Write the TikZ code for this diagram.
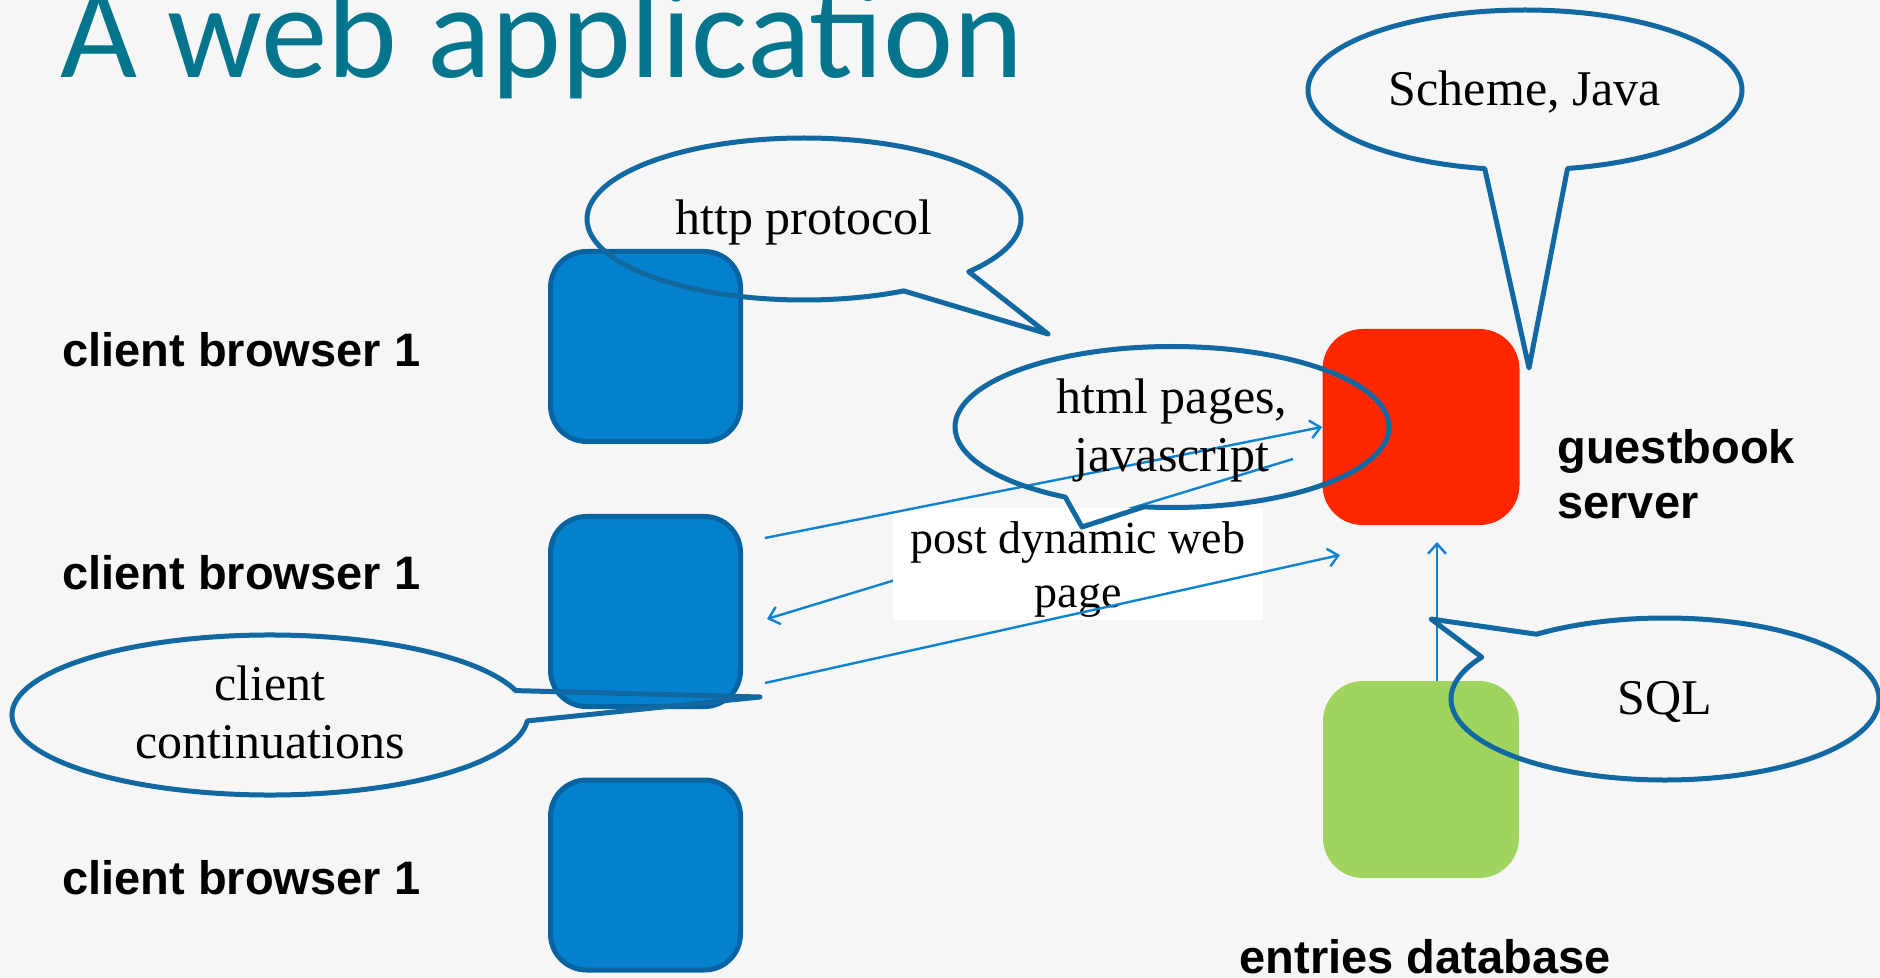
\documentclass[tikz,border=0pt]{standalone}
\usepackage{fontspec}
\setmainfont{Liberation Serif}
\newfontfamily\titlefont{Carlito}
\newfontfamily\labelfont{Liberation Sans}
\usetikzlibrary{shapes.callouts,arrows.meta,calc}
\definecolor{bgcol}{RGB}{246,246,246}
\definecolor{titleteal}{RGB}{4,117,140}
\definecolor{boxblue}{RGB}{6,129,206}
\definecolor{boxedge}{RGB}{8,100,160}
\definecolor{srvred}{RGB}{255,38,0}
\definecolor{dbgreen}{RGB}{161,212,94}
\definecolor{callblue}{RGB}{18,104,160}
\definecolor{arrowblue}{RGB}{15,130,210}
\begin{document}
\begin{tikzpicture}[x=0.5pt,y=-0.5pt,
  box/.style={rectangle, rounded corners=18pt, inner sep=0pt},
  clientbox/.style={box, fill=boxblue, draw=boxedge, line width=2.5pt, minimum width=95pt, minimum height=95pt},
  lab/.style={font=\labelfont\bfseries\fontsize{23.5}{27.5}\selectfont, inner sep=0pt},
  bubble/.style={ellipse callout, draw=callblue, line width=2.5pt, line join=round, inner sep=0pt, align=center, callout pointer arc=22, font=\fontsize{25}{29}\selectfont},
  oneline/.style={text height=18pt, text depth=2pt},
  twoline/.style={text height=46pt, text depth=1pt},
  link/.style={draw=arrowblue, line width=1.2pt, -{Straight Barb[length=5pt,width=9pt]}}
]
\useasboundingbox (0,0) rectangle (1880,978);
\fill[bgcol] (0,0) rectangle (1880,978);

% title
\node[anchor=base west, inner sep=0pt, text=titleteal, font=\titlefont\fontsize{66.5}{70}\selectfont] (title) at (60,78) {A web application};

% boxes
\node[clientbox] (b1) at (645.5,346.5) {};
\node[clientbox] (b2) at (645.5,611.5) {};
\node[clientbox] (b3) at (645.5,875) {};
\node[box, fill=srvred, minimum width=98.5pt, minimum height=98pt, rounded corners=20pt] (srv) at (1421,427) {};
\node[box, fill=dbgreen, minimum width=98pt, minimum height=98.5pt, rounded corners=20pt] (db) at (1421,779.5) {};

% labels
\node[lab, anchor=west] (c1) at (62,350) {client browser 1};
\node[lab, anchor=west] (c2) at (62,573) {client browser 1};
\node[lab, anchor=west] (c3) at (62,878) {client browser 1};
\node[lab, anchor=west, align=left] (gs) at (1557,474) {guestbook\\server};
\node[lab] (edb) at (1425,957) {entries database};

% arrow coordinates
\coordinate (p1) at (765,538);
\coordinate (p2s) at (1293,459);
\coordinate (p2e) at (767,619);
\coordinate (p3s) at (765,683);
\coordinate (p3e) at (1340,555);
\coordinate (p4e) at (1437,542);

\draw[link] (p2s) -- (p2e);
\node[fill=white, minimum width=185pt, minimum height=56pt, inner sep=0pt, align=center, text height=45pt, text depth=1.5pt, font=\fontsize{23}{27}\selectfont] (post) at (1078,564) {post dynamic web\\page};
\draw[link] (p1) -- (srv.west);
\draw[link] (p3s) -- (p3e);
\draw[link] ($(db.north)+(16,0)$) -- (p4e);

% callouts
\node[bubble, oneline, minimum width=217pt, minimum height=80pt, callout absolute pointer={(1529,368)}] (cscheme) at (1525,90) {Scheme, Java};
\node[bubble, oneline, minimum width=217pt, minimum height=81pt, callout absolute pointer={(1048,334)}] (chttp) at (804,219) {http protocol};
\node[bubble, twoline, minimum width=217pt, minimum height=80.5pt, callout absolute pointer={(1082,527)}] (chtml) at (1172,427) {html pages,\\javascript};
\node[bubble, twoline, text height=45pt, text depth=2pt, minimum width=258pt, minimum height=80pt, callout absolute pointer={(760,697)}] (ccont) at (270,715) {client\\continuations};
\node[bubble, oneline, text height=17pt, minimum width=214pt, minimum height=81pt, callout absolute pointer={(1431,619)}] (csql) at (1665,699) {SQL};
\end{tikzpicture}
\end{document}
